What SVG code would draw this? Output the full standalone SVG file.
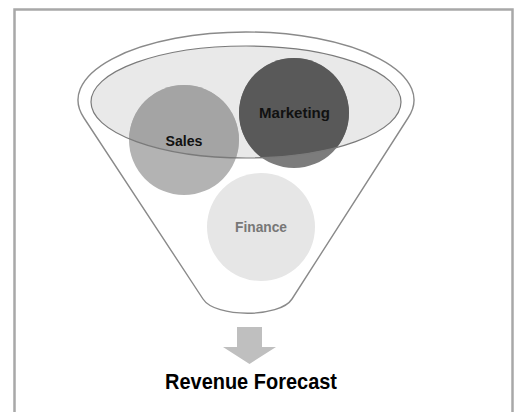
<svg xmlns="http://www.w3.org/2000/svg" width="518" height="412" viewBox="0 0 518 412">
<style>
.lbl{font-family:"Liberation Sans",Arial,sans-serif;font-weight:bold;text-anchor:middle}
.node{font-size:14.5px}
</style>
<defs>
<clipPath id="inEll"><ellipse cx="246" cy="102" rx="155" ry="56"/></clipPath>
</defs>
<rect x="0" y="0" width="518" height="412" fill="#ffffff"/>
<rect x="14.5" y="9.5" width="498" height="430" fill="#ffffff" stroke="#a8a8a8" stroke-width="2.5"/>
<g id="funnel">
<path d="M84,118 A168,68 0 1 1 408,118 L292,299 C280,318 215,318 203,299 Z" fill="#ffffff" stroke="#8a8a8a" stroke-width="1.4"/>
<ellipse cx="246" cy="102" rx="155" ry="56" fill="#e9e9e9"/>
</g>
<g id="sales">
<circle cx="184" cy="140" r="55" fill="#b3b3b3"/>
<circle cx="184" cy="140" r="55" fill="#a4a4a4" clip-path="url(#inEll)"/>
<text class="lbl node" x="184" y="146" textLength="37" lengthAdjust="spacingAndGlyphs" fill="#111">Sales</text>
</g>
<g id="marketing">
<circle cx="294" cy="113" r="55" fill="#7c7c7c"/>
<circle cx="294" cy="113" r="55" fill="#595959" clip-path="url(#inEll)"/>
<text class="lbl node" x="294.5" y="118" textLength="71" lengthAdjust="spacingAndGlyphs" fill="#111">Marketing</text>
</g>
<g id="finance">
<circle cx="261" cy="227" r="54" fill="#e6e6e6"/>
<text class="lbl node" x="261" y="232" textLength="52" lengthAdjust="spacingAndGlyphs" fill="#777">Finance</text>
</g>
<g id="rim">
<ellipse cx="246" cy="102" rx="155" ry="56" fill="none" stroke="#7a7a7a" stroke-width="1.2"/>
</g>
<g id="connectors">
<path d="M237,327 H262 V347 H276 L249.5,364 L223,347 H237 Z" fill="#bfbfbf"/>
</g>
<g id="output">
<text class="lbl" x="251" y="389" font-size="22" textLength="172" lengthAdjust="spacingAndGlyphs" fill="#000">Revenue Forecast</text>
</g>
</svg>
